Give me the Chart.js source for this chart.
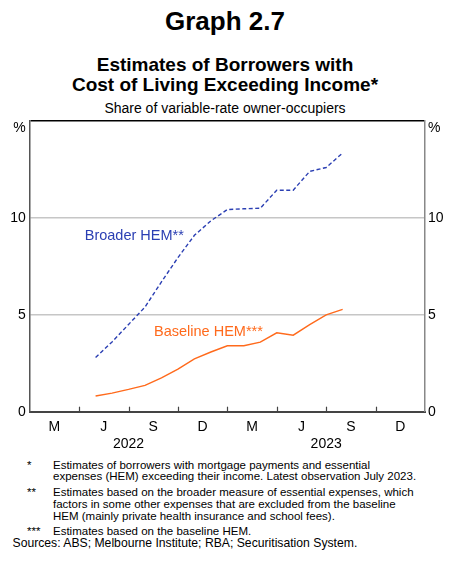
<!DOCTYPE html>
<html>
<head>
<meta charset="utf-8">
<script src="https://cdn.jsdelivr.net/npm/chart.js@4"></script>
<style>
  body { margin: 0; width: 450px; height: 574px; background: #fff; position: relative; overflow: hidden;
         font-family: "Liberation Sans", Arial, sans-serif; color: #000; }
  .abs { position: absolute; left: 0; width: 450px; text-align: center; }
  #graphNo { top: 6.3px; font-size: 26px; line-height: 30px; font-weight: bold; }
  #title { top: 55px; font-size: 19px; line-height: 20.2px; font-weight: bold; }
  #subtitle { top: 100px; font-size: 14px; line-height: 16px; }
  #chartBox { position: absolute; left: 0; top: 100px; width: 450px; height: 350px; }
  .note { position: absolute; left: 0; width: 450px; font-size: 11.5px; line-height: 11.7px; }
  .note .mark { position: absolute; left: 27px; top: 0; }
  .note .txt { position: absolute; left: 53px; top: 0; white-space: nowrap; }
  #src { left: 12.5px; font-size: 12.2px; white-space: nowrap; }
</style>
</head>
<body>
<div class="abs" id="graphNo">Graph 2.7</div>
<div class="abs" id="title">Estimates of Borrowers with<br>Cost of Living Exceeding Income*</div>
<div class="abs" id="subtitle">Share of variable-rate owner-occupiers</div>
<div id="chartBox"><canvas id="chart"></canvas></div>

<div class="note" style="top:459.7px"><span class="mark">*</span><span class="txt">Estimates of borrowers with mortgage payments and essential<br>expenses (HEM) exceeding their income. Latest observation July 2023.</span></div>
<div class="note" style="top:487.2px"><span class="mark">**</span><span class="txt">Estimates based on the broader measure of essential expenses, which<br>factors in some other expenses that are excluded from the baseline<br>HEM (mainly private health insurance and school fees).</span></div>
<div class="note" style="top:525.8px"><span class="mark">***</span><span class="txt">Estimates based on the baseline HEM.</span></div>
<div class="note" id="src" style="top:537.6px">Sources: ABS; Melbourne Institute; RBA; Securitisation System.</div>

<script>
// monthly observations, plotted at month end
const obsMonths = ['2022-04', '2022-05', '2022-06', '2022-07', '2022-08', '2022-09', '2022-10', '2022-11',
                   '2022-12', '2023-01', '2023-02', '2023-03', '2023-04', '2023-05', '2023-06', '2023-07'];
const broaderHEM = [2.8, 3.6, 4.5, 5.4, 6.7, 7.95, 9.1, 9.85, 10.43, 10.47, 10.5, 11.43, 11.43, 12.4, 12.6, 13.35];
const baselineHEM = [0.81, 0.96, 1.15, 1.36, 1.75, 2.2, 2.73, 3.08, 3.4, 3.4, 3.59, 4.07, 3.95, 4.49, 5.0, 5.28];

// x axis runs Jan 2022 – Dec 2023 in months; quarters labelled by their last month
const quarterLabels = ['M', 'J', 'S', 'D', 'M', 'J', 'S', 'D'];
const yearLabels = ['2022', '2023'];
const yTicks = [0, 5, 10, 15];

const BLUE = '#2b3fb3';
const ORANGE = '#ff6a1c';
const FONT = '"Liberation Sans", Arial, sans-serif';

const toMonthEnd = s => {
    const [y, m] = s.split('-').map(Number);
    return (y - 2022) * 12 + m;
};
const points = vals => vals.map((v, i) => ({ x: toMonthEnd(obsMonths[i]), y: v }));

// ticks every half quarter: odd ones carry the quarter letter, mid-year boundary carries the year
function xTicks(scale) {
    const ticks = [];
    for (let i = 0; i <= 16; i++) ticks.push({ value: i * 1.5 });
    scale.ticks = ticks;
}
function xLabel(value) {
    if (value % 3 === 1.5) return quarterLabels[(value - 1.5) / 3];
    if (value % 12 === 6) return ['', yearLabels[(value - 6) / 12]];
    return '';
}

const decor = {
    id: 'decor',
    afterDatasetsDraw(chart) {
        const { ctx, scales: { x, y } } = chart;
        ctx.save();
        // inward tick marks at quarter boundaries
        ctx.strokeStyle = '#444';
        ctx.lineWidth = 1.2;
        for (let q = 3; q < 24; q += 3) {
            const px = Math.round(x.getPixelForValue(q)) + 0.5;
            ctx.beginPath();
            ctx.moveTo(px, y.bottom);
            ctx.lineTo(px, y.bottom - 5);
            ctx.stroke();
        }
        // unit labels
        ctx.font = '14px ' + FONT;
        ctx.fillStyle = '#000';
        ctx.textBaseline = 'middle';
        const py = y.getPixelForValue(15) + 7;
        ctx.textAlign = 'right';
        ctx.fillText('%', x.left - 4, py);
        ctx.textAlign = 'left';
        ctx.fillText('%', x.right + 3, py);
        // series labels
        ctx.font = '14.5px ' + FONT;
        ctx.fillStyle = BLUE;
        ctx.fillText('Broader HEM**', x.getPixelForValue(3.34), y.getPixelForValue(9.06));
        ctx.fillStyle = ORANGE;
        ctx.fillText('Baseline HEM***', x.getPixelForValue(7.55), y.getPixelForValue(4.12));
        ctx.restore();
    }
};

new Chart(document.getElementById('chart'), {
    type: 'line',
    data: {
        datasets: [
            {
                label: 'Broader HEM',
                data: points(broaderHEM),
                borderColor: BLUE,
                borderWidth: 1.4,
                borderDash: [4, 2.5],
                pointRadius: 0,
                tension: 0
            },
            {
                label: 'Baseline HEM',
                data: points(baselineHEM),
                borderColor: ORANGE,
                borderWidth: 1.4,
                pointRadius: 0,
                tension: 0
            }
        ]
    },
    options: {
        responsive: true,
        maintainAspectRatio: false,
        animation: false,
        layout: { padding: { top: 21, bottom: 0, left: 0, right: 0 } },
        plugins: { legend: { display: false }, tooltip: { enabled: false } },
        scales: {
            x: {
                type: 'linear',
                min: 0,
                max: 24,
                afterBuildTicks: xTicks,
                afterFit: s => { s.height = 38.3; },
                grid: { display: false, drawTicks: false },
                border: { display: true, color: '#444', width: 2 },
                ticks: {
                    autoSkip: false,
                    maxRotation: 0,
                    padding: 7,
                    color: '#000',
                    font: { family: FONT, size: 14 },
                    callback: xLabel
                }
            },
            y: {
                position: 'left',
                min: 0,
                max: 15,
                afterBuildTicks: s => { s.ticks = yTicks.map(v => ({ value: v })); },
                afterFit: s => { s.width = 29.7; },
                grid: {
                    drawTicks: false,
                    color: c => c.tick.value === 15 ? '#000' : (c.tick.value === 0 ? 'rgba(0,0,0,0)' : '#c6c6c6'),
                    lineWidth: 1.5
                },
                border: { display: true, color: '#555', width: 1.5 },
                ticks: {
                    padding: 4,
                    color: '#000',
                    font: { family: FONT, size: 14 },
                    callback: v => v === 15 ? '' : v
                }
            },
            y2: {
                position: 'right',
                min: 0,
                max: 15,
                afterBuildTicks: s => { s.ticks = yTicks.map(v => ({ value: v })); },
                afterFit: s => { s.width = 25; },
                grid: { display: false, drawTicks: false },
                border: { display: true, color: '#888', width: 1.5 },
                ticks: {
                    padding: 3,
                    color: '#000',
                    font: { family: FONT, size: 14 },
                    callback: v => v === 15 ? '' : v
                }
            }
        }
    },
    plugins: [decor]
});
</script>
</body>
</html>
